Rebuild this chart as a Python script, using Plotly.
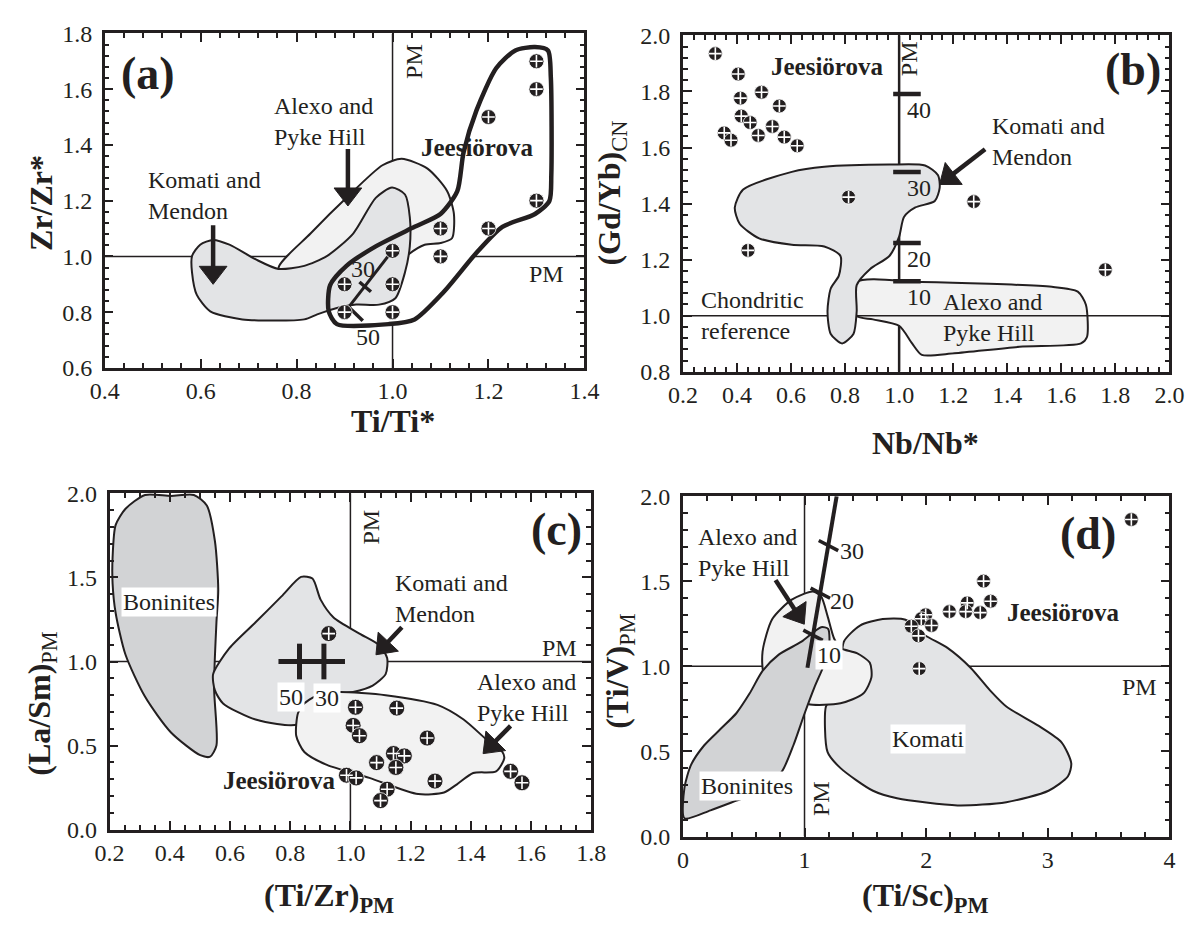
import math
import plotly.graph_objects as go

# ---------------- data ----------------
# Panel (a): Zr/Zr* vs Ti/Ti*
A_KM_X = [0.582, 0.599, 0.626, 0.660, 0.714, 0.762, 0.816, 0.863, 0.918, 0.965, 0.999, 1.026, 1.036, 1.036, 1.026, 1.006, 0.972, 0.924, 0.884, 0.843, 0.816, 0.687, 0.620, 0.592, 0.582]
A_KM_Y = [1.001, 1.042, 1.059, 1.042, 0.990, 0.955, 0.966, 1.001, 1.082, 1.210, 1.247, 1.222, 1.141, 1.036, 0.943, 0.850, 0.827, 0.827, 0.815, 0.792, 0.774, 0.774, 0.803, 0.862, 0.943]
A_AP_X = [0.762, 0.829, 0.911, 0.979, 1.019, 1.073, 1.114, 1.128, 1.124, 1.100, 1.067, 1.033, 1.000, 0.850]
A_AP_Y = [0.955, 1.082, 1.222, 1.327, 1.350, 1.315, 1.234, 1.152, 1.065, 1.048, 1.042, 1.007, 0.950, 0.900]
A_JE_X = [1.297, 1.324, 1.330, 1.331, 1.327, 1.297, 1.229, 1.175, 1.107, 1.046, 0.992, 0.884, 0.867, 0.870, 0.904, 0.965, 1.046, 1.100, 1.135, 1.148, 1.175, 1.216, 1.256]
A_JE_Y = [1.751, 1.739, 1.641, 1.292, 1.199, 1.152, 1.106, 1.013, 0.873, 0.774, 0.757, 0.757, 0.803, 0.897, 0.966, 1.036, 1.106, 1.152, 1.234, 1.373, 1.524, 1.675, 1.739]
A_PTS_X = [1.30, 1.30, 1.20, 1.30, 1.20, 1.10, 1.10, 1.00, 0.90, 1.00, 0.90, 1.00]
A_PTS_Y = [1.70, 1.60, 1.50, 1.20, 1.10, 1.10, 1.00, 1.02, 0.90, 0.90, 0.80, 0.80]
A_MIX_X = [0.905, 0.999]
A_MIX_Y = [0.810, 1.019]
A_TICK_X = [[0.931, 0.955], [0.907, 0.938]]
A_TICK_Y = [[0.908, 0.873], [0.821, 0.769]]
A_TICK_LBL = ["30", "50"]
A_TICK_LBL_X = [0.938, 0.948]
A_TICK_LBL_Y = [0.955, 0.710]
A_PM = (1.0, 1.0)

# Panel (b): (Gd/Yb)CN vs Nb/Nb*
B_KM_X = [0.423, 0.392, 0.410, 0.482, 0.603, 0.723, 0.783, 0.777, 0.747, 0.735, 0.747, 0.789, 0.831, 0.843, 0.843, 0.892, 0.964, 1.000, 1.018, 1.060, 1.132, 1.150, 1.144, 1.096, 0.964, 0.723, 0.603]
B_KM_Y = [1.450, 1.386, 1.328, 1.276, 1.253, 1.247, 1.213, 1.143, 1.097, 1.016, 0.935, 0.901, 0.935, 1.016, 1.109, 1.166, 1.213, 1.282, 1.352, 1.386, 1.409, 1.456, 1.501, 1.536, 1.539, 1.531, 1.513]
B_AP_X = [0.843, 1.084, 1.565, 1.661, 1.691, 1.695, 1.673, 1.445, 1.204, 1.084, 1.048, 1.000, 0.903, 0.843]
B_AP_Y = [1.120, 1.120, 1.103, 1.086, 1.039, 0.924, 0.901, 0.889, 0.866, 0.860, 0.901, 0.964, 0.987, 0.999]
B_PTS_X = [0.320, 0.405, 0.413, 0.491, 0.557, 0.416, 0.449, 0.353, 0.378, 0.479, 0.531, 0.575, 0.623, 0.813, 0.441, 1.276, 1.763]
B_PTS_Y = [1.935, 1.862, 1.776, 1.797, 1.748, 1.712, 1.689, 1.652, 1.626, 1.643, 1.675, 1.637, 1.606, 1.423, 1.233, 1.407, 1.164]
B_MIX_Y = [1.791, 1.513, 1.259, 1.123]
B_MIX_LBL = ["40", "30", "20", "10"]
B_PM = (1.0, 1.0)

# Panel (c): (La/Sm)PM vs (Ti/Zr)PM
C_BON_X = [0.210, 0.220, 0.253, 0.318, 0.404, 0.480, 0.523, 0.550, 0.561, 0.555, 0.547, 0.555, 0.534, 0.501, 0.404, 0.318, 0.253, 0.220, 0.210]
C_BON_Y = [1.618, 1.811, 1.908, 1.990, 1.984, 1.990, 1.927, 1.715, 1.426, 1.233, 0.848, 0.501, 0.434, 0.443, 0.578, 0.790, 1.040, 1.290, 1.464]
C_KM_X = [0.544, 0.598, 0.685, 0.771, 0.836, 0.874, 0.901, 0.944, 1.030, 1.095, 1.122, 1.117, 1.074, 1.009, 0.965, 0.900, 0.825, 0.685, 0.577, 0.550]
C_KM_Y = [0.925, 1.079, 1.233, 1.387, 1.503, 1.493, 1.368, 1.262, 1.166, 1.098, 1.021, 0.925, 0.857, 0.819, 0.809, 0.760, 0.626, 0.655, 0.751, 0.828]
C_AP_X = [0.965, 1.117, 1.289, 1.376, 1.462, 1.505, 1.511, 1.484, 1.408, 1.354, 1.311, 1.225, 1.063, 0.922, 0.847, 0.820, 0.826, 0.847, 0.901]
C_AP_Y = [0.819, 0.800, 0.742, 0.655, 0.520, 0.462, 0.424, 0.347, 0.337, 0.270, 0.221, 0.212, 0.308, 0.385, 0.462, 0.559, 0.694, 0.751, 0.809]
C_PTS_X = [0.928, 1.017, 1.154, 1.009, 1.030, 1.255, 1.143, 1.179, 1.087, 1.151, 0.987, 1.019, 1.281, 1.122, 1.100, 1.532, 1.570]
C_PTS_Y = [1.166, 0.728, 0.723, 0.620, 0.559, 0.545, 0.453, 0.439, 0.399, 0.370, 0.324, 0.308, 0.289, 0.241, 0.173, 0.347, 0.279]
C_MIX_X = [0.831, 0.912]
C_MIX_Y = [1.0, 1.0]
C_MIX_LBL = ["50", "30"]
C_MIX_LBL_X = [0.803, 0.922]
C_MIX_LBL_Y = [0.790, 0.786]
C_PM = (1.0, 1.0)

# Panel (d): (Ti/V)PM vs (Ti/Sc)PM
D_BON_X = [0.013, 0.013, 0.067, 0.174, 0.307, 0.441, 0.548, 0.655, 0.788, 0.975, 1.136, 1.194, 1.202, 1.162, 1.082, 1.002, 0.908, 0.815, 0.655, 0.441, 0.227]
D_BON_Y = [0.107, 0.287, 0.421, 0.535, 0.630, 0.726, 0.840, 0.973, 1.069, 1.145, 1.230, 1.221, 1.107, 1.011, 0.878, 0.726, 0.535, 0.383, 0.269, 0.211, 0.154]
D_AP_X = [0.668, 0.655, 0.735, 0.895, 1.069, 1.136, 1.189, 1.243, 1.296, 1.430, 1.537, 1.550, 1.483, 1.296, 1.029, 0.842]
D_AP_Y = [0.954, 1.087, 1.278, 1.392, 1.440, 1.411, 1.297, 1.164, 1.107, 1.078, 1.021, 0.935, 0.840, 0.783, 0.779, 0.859]
D_KM_X = [1.323, 1.456, 1.643, 1.830, 1.990, 2.178, 2.365, 2.525, 2.659, 2.926, 3.113, 3.193, 3.166, 3.006, 2.659, 2.258, 1.760, 1.563, 1.296, 1.189, 1.176, 1.216, 1.300]
D_KM_Y = [1.145, 1.240, 1.278, 1.274, 1.183, 1.107, 0.992, 0.859, 0.764, 0.650, 0.554, 0.430, 0.354, 0.269, 0.202, 0.183, 0.225, 0.269, 0.402, 0.497, 0.764, 0.802, 1.000]
D_PTS_X = [2.472, 2.338, 2.530, 2.191, 2.325, 2.445, 1.996, 1.960, 2.044, 1.878, 1.937, 1.943, 3.687]
D_PTS_Y = [1.501, 1.373, 1.383, 1.322, 1.322, 1.316, 1.303, 1.280, 1.240, 1.236, 1.179, 0.987, 1.863]
D_MIX_X = [1.024, 1.264]
D_MIX_Y = [0.992, 2.000]
D_TICK_X = [1.070, 1.130, 1.197]
D_TICK_Y = [1.183, 1.430, 1.710]
D_TICK_LBL = ["10", "20", "30"]
D_TICK_LBL_X = [1.202, 1.309, 1.389]
D_TICK_LBL_Y = [1.069, 1.383, 1.678]
D_PM = (1.0, 1.0)

# arrows: (panel, tail_x, tail_y, head_x, head_y)
ARROWS = [
    ("a", 0.907, 1.385, 0.907, 1.189),
    ("a", 0.626, 1.112, 0.626, 0.908),
    ("b", 1.318, 1.594, 1.156, 1.473),
    ("c", 1.171, 1.204, 1.090, 1.050),
    ("c", 1.532, 0.617, 1.446, 0.462),
    ("d", 0.762, 1.507, 0.988, 1.259),
]

# ---------------- style ----------------
FONT = "Liberation Serif, Times New Roman, serif"
INK = "#231f20"
KM_FILL = "#e3e4e6"
AP_FILL = "#f2f2f2"
BON_FILL = "#d2d3d5"
W, H = 1201, 938
TXT = 24      # annotation text size
BTXT = 25     # bold "Jeesiörova"
LET = 46      # panel letters
TTL = 32      # axis titles

# panel frames in pixels: (left, right, top, bottom)
FRAME = {"a": (92, 584, 21, 365), "b": (685, 1184, 23, 369),
         "c": (97, 591, 494, 840), "d": (685, 1184, 497, 847)}
RANGES = {"a": ([0.4, 1.4], [0.6, 1.8]), "b": ([0.2, 2.0], [0.8, 2.0]),
          "c": ([0.2, 1.8], [0.0, 2.0]), "d": ([0.0, 4.0], [0.0, 2.0])}


def px_x(p):
    return p / W


def px_y(p):
    return 1 - p / H


REF = {"a": ("x", "y"), "b": ("x2", "y2"), "c": ("x3", "y3"), "d": ("x4", "y4")}

fig = go.Figure()


def poly(p, xs, ys, fill, lw=2.0, line_color=INK, fill_mode="toself", smooth=True):
    xr, yr = REF[p]
    line = dict(color=line_color, width=lw)
    if smooth:
        line.update(shape="spline", smoothing=0.7)
    fig.add_trace(go.Scatter(x=xs + [xs[0]], y=ys + [ys[0]], mode="lines",
                             fill=fill_mode, fillcolor=fill, line=line,
                             xaxis=xr, yaxis=yr, hoverinfo="skip", showlegend=False))


def seg(p, xs, ys, lw, color=INK):
    xr, yr = REF[p]
    fig.add_trace(go.Scatter(x=xs, y=ys, mode="lines", line=dict(color=color, width=lw),
                             xaxis=xr, yaxis=yr, hoverinfo="skip", showlegend=False))


def pts(p, xs, ys, size=15, csize=9, cw=1.6):
    xr, yr = REF[p]
    fig.add_trace(go.Scatter(x=xs, y=ys, mode="markers",
                             marker=dict(symbol="circle", size=size, color=INK, opacity=1,
                                         line=dict(color="white", width=0.8)),
                             xaxis=xr, yaxis=yr, hoverinfo="skip", showlegend=False))
    fig.add_trace(go.Scatter(x=xs, y=ys, mode="markers",
                             marker=dict(symbol="cross-thin", size=csize, color="white", opacity=1,
                                         line=dict(color="white", width=cw)),
                             xaxis=xr, yaxis=yr, hoverinfo="skip", showlegend=False))


def arrow(p, tx, ty, hx, hy, head=24, back=10):
    xr, yr = REF[p]
    l, r, t, b = FRAME[p]
    (x0, x1), (y0, y1) = RANGES[p]
    kx, ky = (r - l) / (x1 - x0), (b - t) / (y1 - y0)
    dxp, dyp = (hx - tx) * kx, (hy - ty) * ky
    L = math.hypot(dxp, dyp)
    f = (L - back) / L
    mx, my = tx + (hx - tx) * f, ty + (hy - ty) * f
    fig.add_trace(go.Scatter(x=[tx, mx], y=[ty, my], mode="lines",
                             line=dict(color=INK, width=4.5),
                             xaxis=xr, yaxis=yr, hoverinfo="skip", showlegend=False))
    fig.add_trace(go.Scatter(x=[tx, mx], y=[ty, my], mode="markers",
                             marker=dict(symbol="triangle-up", size=[0, head], color=INK,
                                         opacity=1, angleref="previous",
                                         line=dict(width=1, color=INK)),
                             xaxis=xr, yaxis=yr, hoverinfo="skip", showlegend=False))


annotations = []
shapes = []


def txt(p, x, y, s, size=TXT, angle=0, xanchor="center", align="center", bg=None):
    xr, yr = REF[p]
    d = dict(x=x, y=y, xref=xr, yref=yr, text=s, showarrow=False, textangle=angle,
             xanchor=xanchor, yanchor="middle", align=align,
             font=dict(family=FONT, size=size, color=INK))
    if bg:
        d.update(bgcolor=bg, borderpad=1)
    annotations.append(d)


def pm_lines(p, pm, vw=1.5, hw=1.5, hline=True):
    xr, yr = REF[p]
    xr_range, yr_range = RANGES[p]
    shapes.append(dict(type="line", xref=xr, yref=yr, x0=pm[0], x1=pm[0],
                       y0=yr_range[0], y1=yr_range[1], line=dict(color=INK, width=vw), layer="below"))
    if hline:
        shapes.append(dict(type="line", xref=xr, yref=yr, x0=xr_range[0], x1=xr_range[1],
                           y0=pm[1], y1=pm[1], line=dict(color=INK, width=hw), layer="below"))


# ---------------- panel (a) ----------------
pm_lines("a", A_PM)
poly("a", A_JE_X, A_JE_Y, "white", lw=0.1, line_color="white")
poly("a", A_AP_X, A_AP_Y, AP_FILL)
poly("a", A_KM_X, A_KM_Y, KM_FILL)
poly("a", A_JE_X, A_JE_Y, "rgba(0,0,0,0)", lw=4.5, fill_mode="none")
seg("a", A_MIX_X, A_MIX_Y, 3)
for tx, ty in zip(A_TICK_X, A_TICK_Y):
    seg("a", tx, ty, 3.5)
pts("a", A_PTS_X, A_PTS_Y, size=15)
for lbl, lx, ly in zip(A_TICK_LBL, A_TICK_LBL_X, A_TICK_LBL_Y):
    txt("a", lx, ly, lbl)
txt("a", 1.046, 1.70, "PM", angle=-90)
txt("a", 1.321, 0.937, "PM")
txt("a", 1.178, 1.39, "<b>Jeesiörova</b>", size=BTXT)
txt("a", 0.748, 1.483, "Alexo and<br>Pyke Hill", xanchor="left", align="left")
txt("a", 0.487, 1.219, "Komati and<br>Mendon", xanchor="left", align="left")
txt("a", 0.491, 1.655, "<b>(a)</b>", size=LET)

# ---------------- panel (b) ----------------
pm_lines("b", B_PM, vw=2.5, hline=False)
poly("b", B_AP_X, B_AP_Y, AP_FILL)
seg("b", RANGES["b"][0], [B_PM[1], B_PM[1]], 1.5)
poly("b", B_KM_X, B_KM_Y, KM_FILL)
B_BAR = (0.978, 1.080)
for yv, lbl in zip(B_MIX_Y, B_MIX_LBL):
    seg("b", list(B_BAR), [yv, yv], 4.5)
    txt("b", 1.072, yv - 0.057, lbl)
pts("b", B_PTS_X, B_PTS_Y, size=14)
txt("b", 1.036, 1.918, "PM", angle=-90)
txt("b", 0.735, 1.889, "<b>Jeesiörova</b>", size=BTXT)
txt("b", 1.866, 1.877, "<b>(b)</b>", size=LET)
txt("b", 1.336, 1.623, "Komati and<br>Mendon", xanchor="left", align="left")
txt("b", 0.26, 1.0, "Chondritic<br>reference", xanchor="left", align="left")
txt("b", 1.156, 0.994, "Alexo and<br>Pyke Hill", xanchor="left", align="left")

# ---------------- panel (c) ----------------
pm_lines("c", C_PM)
poly("c", C_BON_X, C_BON_Y, BON_FILL)
poly("c", C_KM_X, C_KM_Y, KM_FILL)
poly("c", C_AP_X, C_AP_Y, AP_FILL)
C_ARM_X, C_ARM_Y = 0.07, 0.106
for cx, cy in zip(C_MIX_X, C_MIX_Y):
    seg("c", [cx - C_ARM_X, cx + C_ARM_X], [cy, cy], 5)
    seg("c", [cx, cx], [cy - C_ARM_Y, cy + C_ARM_Y], 5)
pts("c", C_PTS_X, C_PTS_Y, size=16)
for lbl, lx, ly in zip(C_MIX_LBL, C_MIX_LBL_X, C_MIX_LBL_Y):
    txt("c", lx, ly, lbl, bg="white")
txt("c", 0.398, 1.353, "Boninites", bg="white")
txt("c", 1.068, 1.802, "PM", angle=-90)
txt("c", 1.694, 1.079, "PM")
txt("c", 1.683, 1.782, "<b>(c)</b>", size=LET)
txt("c", 1.143, 1.377, "Komati and<br>Mendon", xanchor="left", align="left")
txt("c", 1.413, 0.786, "Alexo and<br>Pyke Hill", xanchor="left", align="left")
txt("c", 0.766, 0.293, "<b>Jeesiörova</b>", size=BTXT)

# ---------------- panel (d) ----------------
pm_lines("d", D_PM)
poly("d", D_KM_X, D_KM_Y, KM_FILL)
poly("d", D_AP_X, D_AP_Y, AP_FILL)
poly("d", D_BON_X, D_BON_Y, BON_FILL)
seg("d", D_MIX_X, D_MIX_Y, 4)
D_TK_DX, D_TK_DY = 0.08, 0.03
for tx, ty in zip(D_TICK_X, D_TICK_Y):
    seg("d", [tx - D_TK_DX, tx + D_TK_DX], [ty + D_TK_DY, ty - D_TK_DY], 3.5)
pts("d", D_PTS_X, D_PTS_Y, size=14)
for lbl, lx, ly in zip(D_TICK_LBL, D_TICK_LBL_X, D_TICK_LBL_Y):
    txt("d", lx, ly, lbl, bg="white" if lbl == "10" else None)
txt("d", 0.527, 0.297, "Boninites", bg="white")
txt("d", 2.017, 0.573, "Komati", bg="white")
txt("d", 1.136, 0.221, "PM", angle=-90)
txt("d", 3.754, 0.878, "PM")
txt("d", 3.327, 1.783, "<b>(d)</b>", size=LET)
txt("d", 0.107, 1.669, "Alexo and<br>Pyke Hill", xanchor="left", align="left")
txt("d", 3.126, 1.316, "<b>Jeesiörova</b>", size=BTXT)

for p, tx, ty, hx, hy in ARROWS:
    arrow(p, tx, ty, hx, hy)

# ---------------- axis titles ----------------
TITLES = [
    ("<b>Ti/Ti*</b>", 388, 420, 0),
    ("<b>Zr/Zr*</b>", 26, 195, -90),
    ("<b>Nb/Nb*</b>", 934, 442, 0),
    ("<b>(Gd/Yb)</b><sub>CN</sub>", 612, 185, -90),
    ("<b>(Ti/Zr)<sub>PM</sub></b>", 322, 910, 0),
    ("<b>(La/Sm)</b><sub>PM</sub>", 27, 710, -90),
    ("<b>(Ti/Sc)<sub>PM</sub></b>", 934, 910, 0),
    ("<b>(Ti/V)</b><sub>PM</sub>", 620, 677, -90),
]
for s, px, py, ang in TITLES:
    annotations.append(dict(x=px_x(px), y=px_y(py), xref="paper", yref="paper", text=s,
                            showarrow=False, textangle=ang, xanchor="center", yanchor="middle",
                            font=dict(family=FONT, size=TTL, color=INK)))


def axis(p, which, dtick, mdtick, fmt, anchor):
    l, r, t, b = FRAME[p]
    xr_, yr_ = RANGES[p]
    if which == "x":
        domain, rng, standoff = [px_x(l), px_x(r)], xr_, 0
    else:
        domain, rng, standoff = [px_y(b), px_y(t)], yr_, 5
    return dict(domain=domain, range=rng, autorange=False, tick0=rng[0], dtick=dtick,
                ticks="inside", ticklen=9, tickwidth=2, tickcolor=INK,
                showline=True, linewidth=2.5, linecolor=INK, mirror="ticks",
                showgrid=False, zeroline=False, tickformat=fmt, anchor=anchor,
                ticklabelstandoff=standoff,
                tickfont=dict(family=FONT, size=24, color=INK), fixedrange=True,
                minor=dict(tick0=rng[0], dtick=mdtick, ticks="inside", ticklen=5,
                           tickwidth=1.5, tickcolor=INK, showgrid=False))


layout = dict(
    width=W, height=H, margin=dict(l=0, r=0, t=0, b=0),
    paper_bgcolor="white", plot_bgcolor="white", showlegend=False,
    font=dict(family=FONT, color=INK),
    xaxis=axis("a", "x", 0.2, 0.04, ".1f", "y"),
    yaxis=axis("a", "y", 0.2, 0.04, ".1f", "x"),
    xaxis2=axis("b", "x", 0.2, 0.04, ".1f", "y2"),
    yaxis2=axis("b", "y", 0.2, 0.04, ".1f", "x2"),
    xaxis3=axis("c", "x", 0.2, 0.05, ".1f", "y3"),
    yaxis3=axis("c", "y", 0.5, 0.1, ".1f", "x3"),
    xaxis4=axis("d", "x", 1, 0.2, "d", "y4"),
    yaxis4=axis("d", "y", 0.5, 0.1, ".1f", "x4"),
    annotations=annotations, shapes=shapes,
)
fig.update_layout(**layout)
fig.write_html("out.html")
